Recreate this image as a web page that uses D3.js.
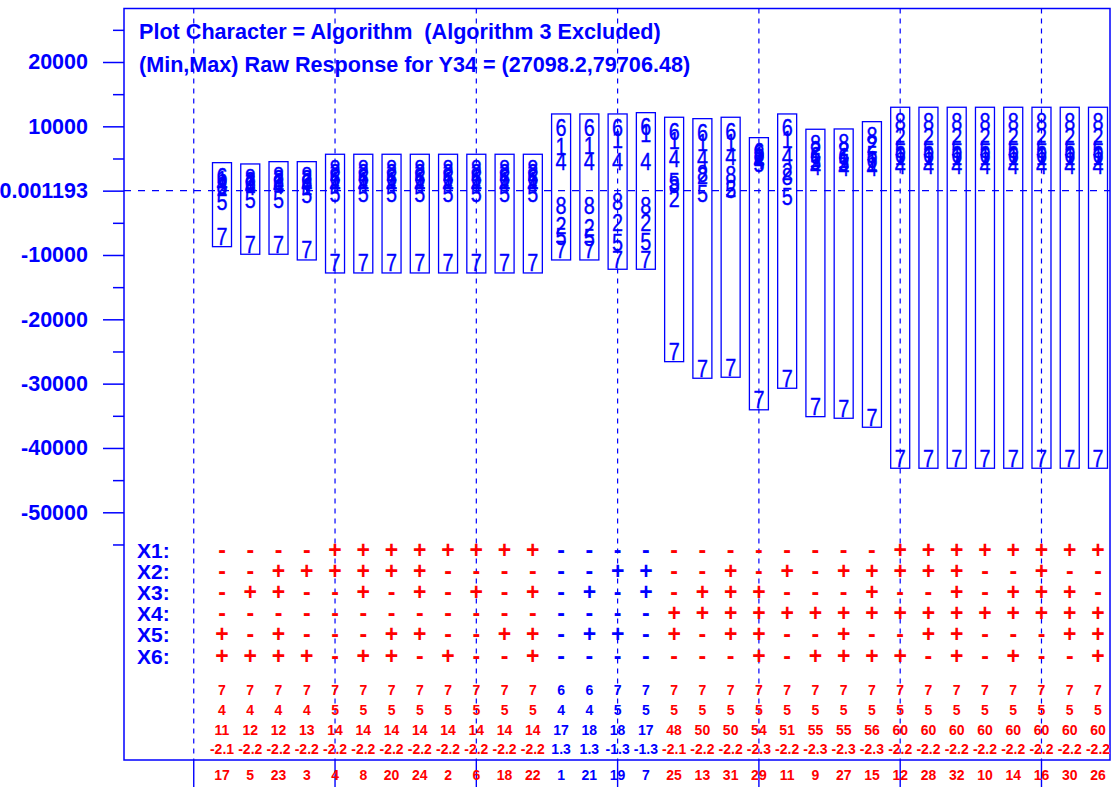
<!DOCTYPE html>
<html><head><meta charset="utf-8">
<script src="https://cdn.jsdelivr.net/npm/d3@7"></script>
<style>
body{margin:0;background:#fff;}
svg{display:block;font-family:Arial,"Liberation Sans",Helvetica,sans-serif;}
</style>
</head><body>
<svg id="chart" width="1112" height="787"></svg>
<script>
// Run order shown along the bottom, one per column
const runs = [17,5,23,3,4,8,20,24,2,6,18,22,1,21,19,7,25,13,31,29,11,9,27,15,12,28,32,10,14,16,30,26];

// Response per algorithm (plot character) for each run
const alg1 = [1663,886,1042,575,1508,1508,1508,1508,1508,1508,1508,1508,6840,6949,7881,8814,7726,7415,7415,5394,7881,4928,4772,4306,5239,5239,5239,5239,5239,5239,5239,5239];
const alg2 = [420,1508,1819,1819,2751,2751,2751,2751,2751,2751,2751,2751,-5487,-5798,-5021,-5021,-1181,2285,264,5083,2954,6327,6171,7104,8394,8394,8394,8394,8394,8394,8394,8394];
const alg4 = [1042,575,731,886,886,886,886,886,886,886,886,886,4508,4508,4508,4508,5037,5037,5285,4617,5285,3684,3529,3529,3840,3840,3840,3840,3840,3840,3840,3840];
const alg5 = [-1710,-1446,-1446,-668,-513,-513,-513,-513,-513,-513,-513,-513,-7197,-7353,-8130,-7927,1399,-404,109,4151,-933,4461,4306,5550,6327,6327,6327,6327,6327,6327,6327,6327];
const alg6 = [2176,1197,1352,1352,1974,1974,1974,1974,1974,1974,1974,1974,9747,9747,9747,9949,9234,9016,9234,6063,9747,5394,5239,4772,5550,5550,5550,5550,5550,5550,5550,5550];
const alg7 = [-7151,-8332,-8332,-9218,-11239,-11239,-11239,-11239,-11239,-11239,-11239,-11239,-9218,-9218,-10664,-10664,-25027,-27608,-27453,-32512,-29163,-33577,-33826,-35225,-41598,-41598,-41598,-41598,-41598,-41598,-41598,-41598];
const alg8 = [731,1974,2332,2332,3482,3482,3482,3482,3482,3482,3482,3482,-2378,-2378,-1757,-2378,886,2705,2441,5705,2176,7368,7415,8550,10788,10788,10788,10788,10788,10788,10788,10788];

const series = [
  {alg: "7", values: alg7},
  {alg: "5", values: alg5},
  {alg: "4", values: alg4},
  {alg: "1", values: alg1},
  {alg: "6", values: alg6},
  {alg: "2", values: alg2},
  {alg: "8", values: alg8}
];

// Factor settings per run
const factors = ["X1:", "X2:", "X3:", "X4:", "X5:", "X6:"];
const signsX1 = "----++++++++------------++++++++";
const signsX2 = "--++++++------++--+-+-+++++--+--";
const signsX3 = "-++--+-+-+-+-+-+-+++---+--+-+++-";
const signsX4 = "----------------++++++++++++++++";
const signsX5 = "+-+---++--++-++-+-++--+--++---++";
const signsX6 = "++++-++-+--+-------+-++++-+-+--+";

// Summary rows under the factor table
const rowA = ["7","7","7","7","7","7","7","7","7","7","7","7","6","6","7","7","7","7","7","7","7","7","7","7","7","7","7","7","7","7","7","7"];
const rowB = ["4","4","4","4","5","5","5","5","5","5","5","5","4","4","5","5","5","5","5","5","5","5","5","5","5","5","5","5","5","5","5","5"];
const rowC = ["11","12","12","13","14","14","14","14","14","14","14","14","17","18","18","17","48","50","50","54","51","55","55","56","60","60","60","60","60","60","60","60"];
const rowD = ["-2.1","-2.2","-2.2","-2.2","-2.2","-2.2","-2.2","-2.2","-2.2","-2.2","-2.2","-2.2","1.3","1.3","-1.3","-1.3","-2.1","-2.2","-2.2","-2.3","-2.2","-2.3","-2.3","-2.3","-2.2","-2.2","-2.2","-2.2","-2.2","-2.2","-2.2","-2.2"];
// Group of each run (B runs are printed in blue)
const group = ["A","A","A","A","A","A","A","A","A","A","A","A","B","B","B","B","A","A","A","A","A","A","A","A","A","A","A","A","A","A","A","A"];

const majorTicks = [20000, 10000, 0.001193, -10000, -20000, -30000, -40000, -50000];
const minorTicks = [25000, 15000, 5000, -5000, -15000, -25000, -35000, -45000, -55000];
const titleLines = ["Plot Character = Algorithm  (Algorithm 3 Excluded)",
                    "(Min,Max) Raw Response for Y34 = (27098.2,79706.48)"];

const BLUE = "#0000ff", RED = "#ff0000";
const groupColor = {A: RED, B: BLUE};
</script>
<script>
const svg = d3.select("#chart");
const frame = {left: 124, right: 1110, top: 8.5, bottom: 760};

const x = d3.scaleLinear().domain([0, runs.length - 1]).range([222, 1098]);
const y = d3.scaleLinear().domain([-50000, 20000]).range([512.3, 62]);

// Reference gridlines every fifth run
const gridIdx = d3.range(-1, runs.length, 5);
svg.append("g").selectAll("line").data(gridIdx).join("line")
  .attr("x1", d => x(d)).attr("x2", d => x(d))
  .attr("y1", frame.top).attr("y2", frame.bottom)
  .attr("stroke", BLUE).attr("stroke-width", 1.2).attr("stroke-dasharray", "5,5");
svg.append("g").selectAll("line").data(gridIdx).join("line")
  .attr("x1", d => x(d)).attr("x2", d => x(d))
  .attr("y1", frame.bottom).attr("y2", 787)
  .attr("stroke", BLUE).attr("stroke-width", 1.4);

// Horizontal reference line at the centre value
svg.append("line")
  .attr("x1", frame.left).attr("x2", frame.right)
  .attr("y1", y(0.001193)).attr("y2", y(0.001193))
  .attr("stroke", BLUE).attr("stroke-width", 1.2).attr("stroke-dasharray", "7,7");

// Frame
svg.append("rect")
  .attr("x", frame.left).attr("y", frame.top)
  .attr("width", frame.right - frame.left).attr("height", frame.bottom - frame.top)
  .attr("fill", "none").attr("stroke", BLUE).attr("stroke-width", 1.5);

// Y axis
const fmt = d => d === 0.001193 ? "0.001193" : String(d);
const yAxis = svg.append("g").attr("transform", `translate(${frame.left},0)`)
  .call(d3.axisLeft(y).tickValues(majorTicks).tickSize(21).tickPadding(15).tickFormat(fmt));
yAxis.select(".domain").remove();
yAxis.selectAll("line").attr("stroke", BLUE).attr("stroke-width", 1.5);
yAxis.selectAll("text").attr("fill", BLUE).attr("font-size", 21.5).attr("font-weight", "bold")
  .attr("font-family", "Arial, 'Liberation Sans', sans-serif");

const yMinor = svg.append("g").attr("transform", `translate(${frame.left},0)`)
  .call(d3.axisLeft(y).tickValues(minorTicks).tickSize(11).tickFormat(""));
yMinor.select(".domain").remove();
yMinor.selectAll("line").attr("stroke", BLUE).attr("stroke-width", 1.5);

// Title
svg.append("g").selectAll("text").data(titleLines).join("text")
  .attr("x", 139).attr("y", (d, i) => 39 + i * 33)
  .attr("fill", BLUE).attr("font-size", 21.6).attr("font-weight", "bold")
  .attr("xml:space", "preserve").style("white-space", "pre")
  .text(d => d);

// Range boxes per run
const DIGIT = 23;
const cols = runs.map((r, i) => {
  const vals = series.map(s => s.values[i]);
  return {i, max: d3.max(vals), min: d3.min(vals)};
});
svg.append("g").selectAll("rect").data(cols).join("rect")
  .attr("x", d => x(d.i) - 9.5).attr("width", 19)
  .attr("y", d => y(d.max) - 14)
  .attr("height", d => y(d.min) - y(d.max) + 24)
  .attr("fill", "none").attr("stroke", BLUE).attr("stroke-width", 1.3);

// Plot characters (slightly condensed)
const pts = [];
series.forEach(s => s.values.forEach((v, i) => pts.push({alg: s.alg, v, i})));
svg.append("g").selectAll("text").data(pts).join("text")
  .attr("transform", d => `translate(${x(d.i)},${y(d.v) + 0.36 * DIGIT}) scale(0.86,1)`)
  .attr("text-anchor", "middle").attr("fill", BLUE)
  .attr("stroke", BLUE).attr("stroke-width", 0.35)
  .attr("font-size", DIGIT)
  .text(d => d.alg);

// Factor table
const signRows = [signsX1, signsX2, signsX3, signsX4, signsX5, signsX6].map(s => s.split(""));
const rowY = d3.scaleLinear().domain([0, 5]).range([550, 656]);
svg.append("g").selectAll("text").data(factors).join("text")
  .attr("x", 137).attr("y", (d, i) => rowY(i) + 7.5)
  .attr("fill", BLUE).attr("font-size", 21).attr("font-weight", "bold")
  .text(d => d);

signRows.forEach((row, r) => {
  svg.append("g").selectAll("text").data(row).join("text")
    .attr("x", (d, i) => x(i)).attr("y", rowY(r) + 7.5)
    .attr("text-anchor", "middle")
    .attr("fill", (d, i) => groupColor[group[i]])
    .attr("font-size", 23).attr("font-weight", "bold")
    .text(d => d);
});

// Summary numbers
const sumRows = [rowA, rowB, rowC, rowD];
const sumY = [690, 710, 730, 749];
sumRows.forEach((row, r) => {
  svg.append("g").selectAll("text").data(row).join("text")
    .attr("x", (d, i) => x(i)).attr("y", sumY[r] + 5)
    .attr("text-anchor", "middle")
    .attr("fill", (d, i) => groupColor[group[i]])
    .attr("font-size", 14).attr("font-weight", "bold")
    .text(d => d);
});
svg.append("g").selectAll("text").data(runs).join("text")
  .attr("x", (d, i) => x(i)).attr("y", 775 + 5)
  .attr("text-anchor", "middle")
  .attr("fill", (d, i) => groupColor[group[i]])
  .attr("font-size", 14).attr("font-weight", "bold")
  .text(d => d);
</script>
</body></html>
